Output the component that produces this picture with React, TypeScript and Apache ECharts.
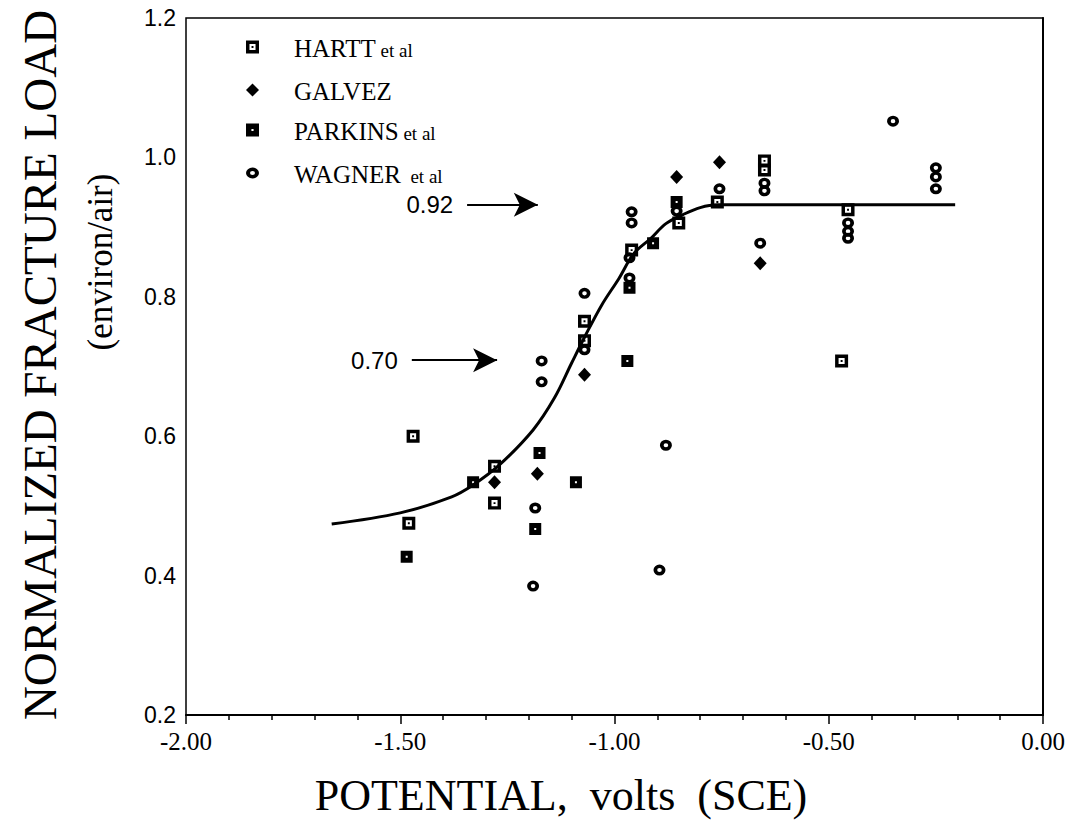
import { useEffect, useRef } from "react";
import * as echarts from "echarts";

// ---- data ----
const xTickValues = [-2.0, -1.5, -1.0, -0.5, 0.0];
const yTickValues = [0.2, 0.4, 0.6, 0.8, 1.0, 1.2];

const harttData: [number, number][] = [
  [-1.47, 0.6], [-1.48, 0.475], [-1.28, 0.557], [-1.28, 0.504],
  [-1.07, 0.765], [-1.07, 0.737], [-0.96, 0.867], [-0.85, 0.906],
  [-0.76, 0.936], [-0.65, 0.995], [-0.65, 0.982], [-0.455, 0.925],
  [-0.47, 0.708],
];
const galvezData: [number, number][] = [
  [-1.28, 0.534], [-1.18, 0.546], [-1.07, 0.688], [-0.855, 0.972],
  [-0.755, 0.993], [-0.66, 0.848],
];
const parkinsData: [number, number][] = [
  [-1.485, 0.427], [-1.33, 0.534], [-1.175, 0.576], [-1.185, 0.467],
  [-1.09, 0.534], [-0.97, 0.708], [-0.965, 0.813], [-0.91, 0.877],
  [-0.855, 0.936],
];
const wagnerData: [number, number][] = [
  [-1.17, 0.708], [-1.17, 0.678], [-1.185, 0.497], [-1.19, 0.385],
  [-1.07, 0.805], [-1.07, 0.724], [-0.96, 0.922], [-0.96, 0.906],
  [-0.965, 0.856], [-0.965, 0.827], [-0.88, 0.587], [-0.895, 0.408],
  [-0.855, 0.923], [-0.755, 0.955], [-0.66, 0.877], [-0.65, 0.963],
  [-0.65, 0.952], [-0.455, 0.906], [-0.455, 0.894], [-0.455, 0.884],
  [-0.35, 1.052], [-0.25, 0.985], [-0.25, 0.972], [-0.25, 0.955],
];
const fitCurve: [number, number][] = [
  [-1.66, 0.474], [-1.5, 0.49], [-1.38, 0.513], [-1.33, 0.53],
  [-1.27, 0.558], [-1.19, 0.609], [-1.14, 0.655], [-1.1, 0.705],
  [-1.07, 0.742], [-1.03, 0.788], [-0.99, 0.826], [-0.955, 0.862],
  [-0.915, 0.884], [-0.88, 0.905], [-0.84, 0.918], [-0.8, 0.928],
  [-0.76, 0.932], [-0.7, 0.932], [-0.205, 0.932],
];
const arrowLabels = ["0.92", "0.70"];
const arrowStarts: [number, number][] = [[-1.344, 0.932], [-1.473, 0.709]];
const arrowEnds: [number, number][] = [[-1.179, 0.932], [-1.274, 0.709]];

const seriesNames = ["HARTT", "GALVEZ", "PARKINS", "WAGNER"];
const seriesSuffix = [" et al", "", " et al", "  et al"];

// symbols
const SYM_HARTT = "path://M0 0H12V12H0Z M3.2 3.2V8.8H8.8V3.2Z M5.1 5.1H6.9V6.9H5.1Z";
const SYM_PARKINS = "path://M0 0H12V12H0Z M5 5V7H7V5Z";
const SYM_WAGNER =
  "path://M6 0A6 5 0 1 1 6 10A6 5 0 1 1 6 0Z M6 3.1A2.3 1.9 0 1 0 6 6.9A2.3 1.9 0 1 0 6 3.1Z";

const SERIF = "'Liberation Serif', 'DejaVu Serif', serif";
const SANS = "'Liberation Sans', 'DejaVu Sans', sans-serif";

export default function App() {
  const ref = useRef<HTMLDivElement>(null);

  useEffect(() => {
    document.body.style.margin = "0";
    if (!ref.current) return;
    const chart = echarts.init(ref.current, null, { renderer: "svg" });

    const legendTops = [31, 74, 114, 157];
    const legendIcons = [SYM_HARTT, "diamond", SYM_PARKINS, SYM_WAGNER];

    const option: any = {
      animation: false,
      backgroundColor: "#fff",
      grid: {
        left: 186,
        right: 30,
        top: 18,
        bottom: 110,
        show: true,
        borderColor: "#000",
        borderWidth: 1.5,
        containLabel: false,
      },
      legend: seriesNames.map((n, i) => ({
        data: [n],
        orient: "vertical",
        left: 241,
        top: legendTops[i],
        itemWidth: 13,
        itemHeight: 13,
        icon: legendIcons[i],
        selectedMode: false,
        formatter: (name: string) =>
          `{a|${name}}{b|${seriesSuffix[seriesNames.indexOf(name)]}}`,
        textStyle: {
          color: "#000",
          padding: [0, 0, 0, 30],
          rich: {
            a: { fontFamily: SERIF, fontSize: 25, color: "#000", lineHeight: 28, verticalAlign: "bottom" },
            b: { fontFamily: SERIF, fontSize: 19, color: "#000", lineHeight: 28, verticalAlign: "bottom", padding: [0, 0, 1, 0] },
          },
        },
      })),
      xAxis: {
        type: "value",
        min: xTickValues[0],
        max: xTickValues[xTickValues.length - 1],
        interval: 0.5,
        axisLine: { show: true, lineStyle: { color: "#000", width: 2 } },
        axisTick: { show: true, length: 9, lineStyle: { color: "#000", width: 1.5 } },
        minorTick: { show: true, splitNumber: 5, length: 5, lineStyle: { color: "#000", width: 1.5 } },
        splitLine: { show: false },
        axisLabel: {
          color: "#000",
          fontFamily: SERIF,
          fontSize: 25,
          margin: 14,
          formatter: (v: number) => v.toFixed(2),
        },
      },
      yAxis: {
        type: "value",
        min: yTickValues[0],
        max: yTickValues[yTickValues.length - 1],
        interval: 0.2,
        axisLine: { show: true, lineStyle: { color: "#000", width: 2 } },
        axisTick: { show: false },
        splitLine: { show: false },
        axisLabel: {
          color: "#000",
          fontFamily: SANS,
          fontSize: 23,
          margin: 10,
          formatter: (v: number) => v.toFixed(1),
        },
      },
      graphic: [
        {
          type: "text",
          x: 40,
          y: 365,
          rotation: Math.PI / 2,
          style: {
            text: "NORMALIZED FRACTURE LOAD",
            fontFamily: SERIF,
            fontSize: 47,
            fill: "#000",
            align: "center",
            verticalAlign: "middle",
          },
        },
        {
          type: "text",
          x: 100,
          y: 262,
          rotation: Math.PI / 2,
          style: {
            text: "(environ/air)",
            fontFamily: SERIF,
            fontSize: 35,
            fill: "#000",
            align: "center",
            verticalAlign: "middle",
          },
        },
        {
          type: "text",
          x: 561,
          y: 795,
          style: {
            text: "POTENTIAL,  volts  (SCE)",
            fontFamily: SERIF,
            fontSize: 44,
            fill: "#000",
            align: "center",
            verticalAlign: "middle",
          },
        },
      ],
      series: [
        {
          name: "fit",
          type: "line",
          data: fitCurve,
          smooth: 0.35,
          showSymbol: false,
          symbol: "none",
          silent: true,
          lineStyle: { color: "#000", width: 3 },
          z: 1,
          markLine: {
            silent: true,
            symbol: ["none", "arrow"],
            symbolSize: [18, 24],
            lineStyle: { color: "#000", width: 2.2, type: "solid" },
            label: {
              show: true,
              position: "start",
              distance: 14,
              color: "#000",
              fontFamily: SANS,
              fontSize: 24,
              formatter: (p: any) => p.name,
            },
            data: arrowLabels.map((lab, i) => [
              { coord: arrowStarts[i], name: lab },
              { coord: arrowEnds[i] },
            ]),
          },
        },
        {
          name: "HARTT",
          type: "scatter",
          data: harttData,
          symbol: SYM_HARTT,
          symbolSize: 13,
          itemStyle: { color: "#000", opacity: 1 },
          z: 3,
        },
        {
          name: "GALVEZ",
          type: "scatter",
          data: galvezData,
          symbol: "diamond",
          symbolSize: [13, 14],
          itemStyle: { color: "#000", opacity: 1 },
          z: 3,
        },
        {
          name: "PARKINS",
          type: "scatter",
          data: parkinsData,
          symbol: SYM_PARKINS,
          symbolSize: 12,
          itemStyle: { color: "#000", opacity: 1 },
          z: 3,
        },
        {
          name: "WAGNER",
          type: "scatter",
          data: wagnerData,
          symbol: SYM_WAGNER,
          symbolSize: [12, 11],
          itemStyle: { color: "#000", opacity: 1 },
          z: 3,
        },
      ],
    };

    chart.setOption(option);
    return () => chart.dispose();
  }, []);

  return <div ref={ref} style={{ width: 1073, height: 825 }} />;
}
